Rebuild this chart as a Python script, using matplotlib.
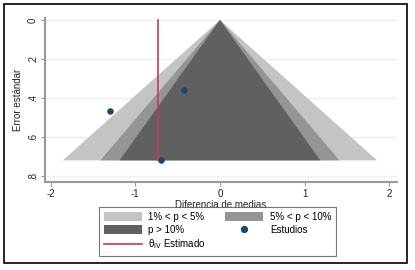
import matplotlib
matplotlib.use("Agg")
import matplotlib.pyplot as plt
import numpy as np
from matplotlib.patches import Patch, Rectangle
from matplotlib.lines import Line2D

plt.rcParams['font.family'] = ['Liberation Sans', 'DejaVu Sans']

# Data
study_effect = [-1.30, -0.42, -0.70]
study_se = [0.465, 0.36, 0.72]
pooled_estimate = -0.73
se_max = 0.72
z_levels = [2.576, 1.96, 1.645]  # 1%, 5%, 10%
region_colors = ["#c4c4c4", "#959595", "#606060"]
region_labels = ["1% < p < 5%", "5% < p < 10%", "p > 10%"]
xticks = [-2, -1, 0, 1, 2]
yticks = [0, 0.2, 0.4, 0.6, 0.8]
yticklabels = ["0", ".2", ".4", ".6", ".8"]

fig = plt.figure(figsize=(4.15, 2.70), dpi=100)
ax = fig.add_axes([45/415, 1-182/270, (397-45)/415, (182-18)/270])

for z, c in zip(z_levels, region_colors):
    ax.fill([-z*se_max, 0, z*se_max], [se_max, 0, se_max], color=c, lw=0, zorder=2)

ax.plot([pooled_estimate, pooled_estimate], [0, se_max], color="#c8385e", lw=1.2, zorder=3)
ax.scatter(study_effect, study_se, s=22, color="#1a476f", zorder=4, lw=0)

ax.set_xlim(-2.065, 2.09)
ax.set_ylim(0.831, -0.01)
ax.set_xticks(xticks)
ax.set_xticklabels([str(t) for t in xticks])
ax.set_yticks(yticks)
ax.set_yticklabels(yticklabels, rotation=90, va='center')
for y in yticks:
    ax.axhline(y, color="#efefef", lw=1.0, zorder=1)

for s in ["top", "right"]:
    ax.spines[s].set_visible(False)
for s in ["left", "bottom"]:
    ax.spines[s].set_color("#999999")
    ax.spines[s].set_linewidth(1.5)
ax.tick_params(colors="#999999", labelcolor="#222222", labelsize=7, length=3, width=0.8, pad=2)
ax.set_xlabel("Diferencia de medias", fontsize=7, color="#222222", labelpad=1)
ax.set_ylabel("Error estándar", fontsize=7, color="#222222", labelpad=4)

handles = [
    Patch(facecolor=region_colors[0], edgecolor='none', label=region_labels[0]),
    Patch(facecolor=region_colors[2], edgecolor='none', label=region_labels[2]),
    Line2D([], [], color="#c8385e", lw=1.2, label=r"θ$_{\rm IV}$ Estimado"),
    Patch(facecolor=region_colors[1], edgecolor='none', label=region_labels[1]),
    Line2D([], [], color="#1a476f", marker='o', ms=4.2, lw=0, label="Estudios"),
]
leg = fig.legend(handles=handles, ncol=2, loc='center', bbox_to_anchor=(217.5/415, 1-231.5/270),
                 fontsize=7, frameon=True, fancybox=False, edgecolor="#555555",
                 handlelength=3.9, handleheight=1.0, columnspacing=2.0, labelspacing=0.3,
                 borderpad=0.45, handletextpad=0.7)
leg.get_frame().set_linewidth(0.8)

fig.patches.append(Rectangle((4/415, 1-263/270), 403/415, 259/270, transform=fig.transFigure,
                             fill=False, edgecolor='black', lw=1.2))

fig.savefig("out.png", dpi=100, facecolor='white')
